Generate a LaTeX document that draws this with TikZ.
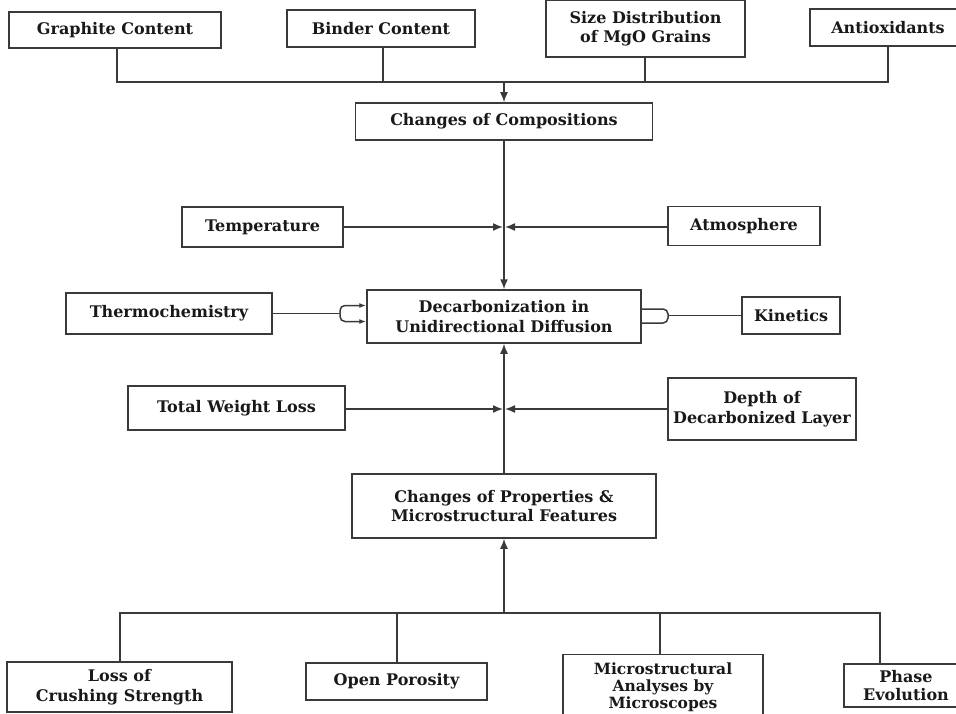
\documentclass[tikz,border=0pt]{standalone}
\usepackage{fontspec}
\setmainfont{DejaVu Serif}
\usetikzlibrary{arrows.meta}
\definecolor{ink}{HTML}{3A3A3A}
\begin{document}
\begin{tikzpicture}[x=1pt,y=-1pt,
  box/.style={draw=ink, line width=1.5pt, fill=white, align=center, inner sep=0pt,
    font=\bfseries\fontsize{16}{19.5}\selectfont, text=black!90},
  conn/.style={draw=ink, line width=1.5pt},
  arr/.style={conn, -{Latex[length=10pt,width=8pt]}},
  farr/.style={conn, rounded corners=5pt, -{Latex[length=7pt,width=5pt]}}]
\useasboundingbox (0,0) rectangle (956,714);
% top row
\node[box, minimum width=212pt, minimum height=36pt] (gc) at (115,30) {Graphite Content};
\node[box, minimum width=188pt, minimum height=37pt] (bc) at (381,28.5) {Binder Content};
\node[box, minimum width=199pt, minimum height=57pt] (sd) at (645.5,28.5) {Size Distribution\\of MgO Grains};
\node[box, minimum width=156pt, minimum height=37pt] (ao) at (888,27.5) {Antioxidants};
% middle
\node[box, minimum width=297pt, minimum height=37pt] (cc) at (504,121.5) {Changes of Compositions};
\node[box, minimum width=161pt, minimum height=40pt] (tp) at (262.5,227) {Temperature};
\node[box, minimum width=152pt, minimum height=39pt] (at) at (744,226) {Atmosphere};
\node[box, minimum width=206pt, minimum height=41pt] (th) at (169,313.5) {Thermochemistry};
\node[box, minimum width=274pt, minimum height=53pt] (dc) at (504,316.5) {Decarbonization in\\Unidirectional Diffusion};
\node[box, minimum width=98pt, minimum height=37pt] (kn) at (791,315.5) {Kinetics};
\node[box, minimum width=217pt, minimum height=44pt] (tw) at (236.5,408) {Total Weight Loss};
\node[box, minimum width=188pt, minimum height=62pt] (dp) at (762,409) {Depth of\\Decarbonized Layer};
\node[box, minimum width=304pt, minimum height=64pt] (cp) at (504,506) {Changes of Properties \&\\Microstructural Features};
% bottom row
\node[box, minimum width=225pt, minimum height=50pt] (ls) at (119.5,687) {Loss of\\Crushing Strength};
\node[box, minimum width=181pt, minimum height=37pt] (op) at (396.5,681.5) {Open Porosity};
\node[box, minimum width=200pt, minimum height=66pt,
  font=\bfseries\fontsize{15.5}{17}\selectfont] (ma) at (663,687.5) {Microstructural\\Analyses by\\Microscopes};
\node[box, minimum width=124pt, minimum height=43pt, font=\bfseries\fontsize{16}{18}\selectfont] (pe) at (906,685.5) {Phase\\Evolution};
% top tree
\coordinate (tj) at (504,82);
\draw[conn] (gc.south -| 117,0) |- (tj);
\draw[conn] (ao.south -| 888,0) |- (tj);
\draw[conn] (bc.south -| 383,0) -- (383,82);
\draw[conn] (sd.south -| 645,0) -- (645,82);
\draw[arr] (tj) -- (cc.north);
% composition to decarbonization
\draw[arr] (cc.south) -- (dc.north);
\coordinate (m1) at (504,227);
\draw[arr] (tp.east) -- ([xshift=-1pt]m1);
\draw[arr] (at.west |- m1) -- ([xshift=1pt]m1);
% thermochemistry fork
\coordinate (fl) at (340,313.5);
\draw[conn] (th.east) -- (fl);
\draw[farr] (fl) |- ([yshift=11pt]dc.west);
\draw[farr] (fl) |- ([yshift=-5pt]dc.west);
% kinetics fork
\coordinate (fr) at (668,315.5);
\draw[conn] (kn.west) -- (fr);
\draw[conn, rounded corners=5pt] ([yshift=7.5pt]dc.east) -| (fr);
\draw[conn, rounded corners=5pt] ([yshift=-6.5pt]dc.east) -| (fr);
% weight loss / depth
\coordinate (m2) at (504,409);
\draw[arr] (tw.east |- m2) -- ([xshift=-1pt]m2);
\draw[arr] (dp.west |- m2) -- ([xshift=1pt]m2);
\draw[arr] (cp.north) -- (dc.south);
% bottom tree
\coordinate (bj) at (504,613);
\draw[conn] (ls.north -| 120,0) |- (bj);
\draw[conn] (pe.north -| 880,0) |- (bj);
\draw[conn] (op.north -| 397,0) -- (397,613);
\draw[conn] (ma.north -| 660,0) -- (660,613);
\draw[arr] (bj) -- (cp.south);
\end{tikzpicture}
\end{document}
